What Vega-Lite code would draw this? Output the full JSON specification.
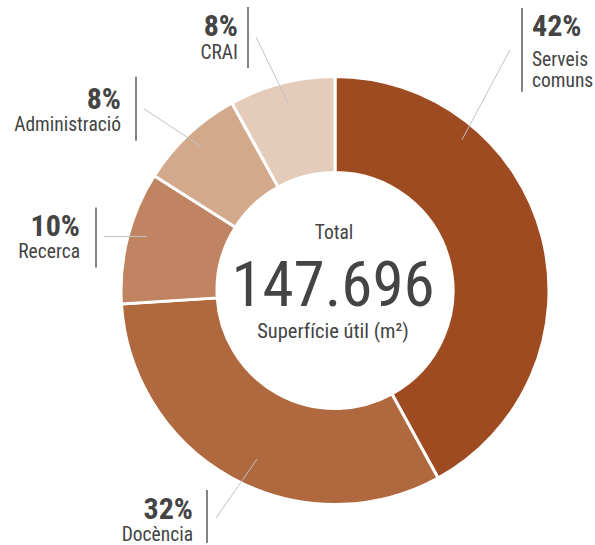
{
  "$schema": "https://vega.github.io/schema/vega-lite/v6.json",
  "width": 595,
  "height": 545,
  "autosize": {"type": "fit", "contains": "padding"},
  "padding": 0,
  "background": "white",
  "config": {"view": {"stroke": null}, "text": {"font": "Liberation Sans Narrow, Roboto Condensed, Noto Sans Condensed, Roboto, sans-serif", "color": "#444444"}},
  "datasets": {
    "slices": [
      {"cat": "Serveis comuns", "pct": 42, "ord": 1},
      {"cat": "Docència", "pct": 32, "ord": 2},
      {"cat": "Recerca", "pct": 10, "ord": 3},
      {"cat": "Administració", "pct": 8, "ord": 4},
      {"cat": "CRAI", "pct": 8, "ord": 5}
    ],
    "labels": [
      {"t": "8%", "kind": "pct", "side": "R", "x": -97, "y": 255},
      {"t": "CRAI", "kind": "name", "side": "R", "x": -97, "y": 232},
      {"t": "8%", "kind": "pct", "side": "R", "x": -214, "y": 182},
      {"t": "Administració", "kind": "name", "side": "R", "x": -214, "y": 160},
      {"t": "10%", "kind": "pct", "side": "R", "x": -255, "y": 55},
      {"t": "Recerca", "kind": "name", "side": "R", "x": -255, "y": 33},
      {"t": "32%", "kind": "pct", "side": "R", "x": -142, "y": -229},
      {"t": "Docència", "kind": "name", "side": "R", "x": -142, "y": -251},
      {"t": "42%", "kind": "pct", "side": "L", "x": 197, "y": 255},
      {"t": "Serveis", "kind": "name", "side": "L", "x": 197, "y": 225},
      {"t": "comuns", "kind": "name", "side": "L", "x": 197, "y": 204},
      {"t": "Total", "kind": "total", "side": "C", "x": -1, "y": 52},
      {"t": "147.696", "kind": "big", "side": "C", "x": -2, "y": -16},
      {"t": "Superfície útil (m²)", "kind": "sub", "side": "C", "x": -2, "y": -48}
    ],
    "bars": [
      {"cat": "CRAI", "x": -87, "y": 284, "y2": 223},
      {"cat": "Administració", "x": -199, "y": 214, "y2": 150},
      {"cat": "Recerca", "x": -239, "y": 83, "y2": 23},
      {"cat": "Docència", "x": -128, "y": -200, "y2": -253},
      {"cat": "Serveis comuns", "x": 187, "y": 283, "y2": 199}
    ],
    "leaders": [
      {"cat": "CRAI", "x": -79, "y": 254, "x2": -47, "y2": 188},
      {"cat": "Administració", "x": -191, "y": 182, "x2": -135, "y2": 145},
      {"cat": "Recerca", "x": -231, "y": 54, "x2": -188, "y2": 54},
      {"cat": "Docència", "x": -119, "y": -228, "x2": -78, "y2": -169},
      {"cat": "Serveis comuns", "x": 175, "y": 241, "x2": 127, "y2": 151}
    ]
  },
  "layer": [
    {
      "data": {"name": "slices"},
      "mark": {"type": "arc", "outerRadius": 214, "innerRadius": 118, "stroke": "white", "strokeWidth": 3},
      "encoding": {
        "x": {"datum": 0, "type": "quantitative", "scale": {"domain": [-335, 260], "nice": false, "zero": false}, "axis": null},
        "y": {"datum": 0, "type": "quantitative", "scale": {"domain": [-254, 291], "nice": false, "zero": false}, "axis": null},
        "theta": {"field": "pct", "type": "quantitative", "stack": true},
        "order": {"field": "ord", "type": "quantitative", "sort": "ascending"},
        "color": {"field": "cat", "type": "nominal", "legend": null,
          "scale": {"domain": ["Serveis comuns", "Docència", "Recerca", "Administració", "CRAI"],
                    "range": ["#9E4B22", "#B0683E", "#C08462", "#D3A98C", "#E5CBBA"]}}
      }
    },
    {
      "data": {"name": "leaders"},
      "mark": {"type": "rule", "color": "#c2c2c2", "strokeWidth": 1},
      "encoding": {
        "x": {"field": "x", "type": "quantitative"},
        "y": {"field": "y", "type": "quantitative"},
        "x2": {"field": "x2"},
        "y2": {"field": "y2"}
      }
    },
    {
      "data": {"name": "bars"},
      "mark": {"type": "rule", "color": "#5a5a5a", "strokeWidth": 1.5},
      "encoding": {
        "x": {"field": "x", "type": "quantitative"},
        "y": {"field": "y", "type": "quantitative"},
        "y2": {"field": "y2"}
      }
    },
    {
      "data": {"name": "labels"},
      "transform": [{"filter": "datum.kind === 'pct' && datum.side === 'R'"}],
      "mark": {"type": "text", "align": "right", "baseline": "alphabetic", "fontSize": 30, "fontWeight": "bold"},
      "encoding": {"x": {"field": "x", "type": "quantitative"}, "y": {"field": "y", "type": "quantitative"}, "text": {"field": "t"}}
    },
    {
      "data": {"name": "labels"},
      "transform": [{"filter": "datum.kind === 'pct' && datum.side === 'L'"}],
      "mark": {"type": "text", "align": "left", "baseline": "alphabetic", "fontSize": 30, "fontWeight": "bold"},
      "encoding": {"x": {"field": "x", "type": "quantitative"}, "y": {"field": "y", "type": "quantitative"}, "text": {"field": "t"}}
    },
    {
      "data": {"name": "labels"},
      "transform": [{"filter": "datum.kind === 'name' && datum.side === 'R'"}],
      "mark": {"type": "text", "align": "right", "baseline": "alphabetic", "fontSize": 19.5},
      "encoding": {"x": {"field": "x", "type": "quantitative"}, "y": {"field": "y", "type": "quantitative"}, "text": {"field": "t"}}
    },
    {
      "data": {"name": "labels"},
      "transform": [{"filter": "datum.kind === 'name' && datum.side === 'L'"}],
      "mark": {"type": "text", "align": "left", "baseline": "alphabetic", "fontSize": 19.5},
      "encoding": {"x": {"field": "x", "type": "quantitative"}, "y": {"field": "y", "type": "quantitative"}, "text": {"field": "t"}}
    },
    {
      "data": {"name": "labels"},
      "transform": [{"filter": "datum.kind === 'total'"}],
      "mark": {"type": "text", "align": "center", "baseline": "alphabetic", "fontSize": 19.5},
      "encoding": {"x": {"field": "x", "type": "quantitative"}, "y": {"field": "y", "type": "quantitative"}, "text": {"field": "t"}}
    },
    {
      "data": {"name": "labels"},
      "transform": [{"filter": "datum.kind === 'big'"}],
      "mark": {"type": "text", "align": "center", "baseline": "alphabetic", "fontSize": 63},
      "encoding": {"x": {"field": "x", "type": "quantitative"}, "y": {"field": "y", "type": "quantitative"}, "text": {"field": "t"}}
    },
    {
      "data": {"name": "labels"},
      "transform": [{"filter": "datum.kind === 'sub'"}],
      "mark": {"type": "text", "align": "center", "baseline": "alphabetic", "fontSize": 20.5},
      "encoding": {"x": {"field": "x", "type": "quantitative"}, "y": {"field": "y", "type": "quantitative"}, "text": {"field": "t"}}
    }
  ]
}
